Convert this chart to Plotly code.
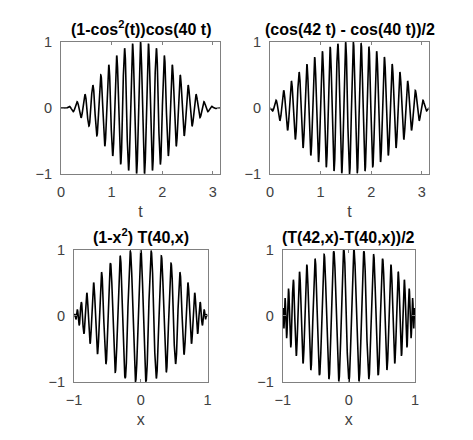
import numpy as np
import plotly.graph_objects as go

# panel titles and axis labels
titles = ["(1-cos<sup>2</sup>(t))cos(40 t)", "(cos(42 t) - cos(40 t))/2",
          "(1-x<sup>2</sup>) T(40,x)", "(T(42,x)-T(40,x))/2"]
xlabels = ["t", "t", "x", "x"]
x_ticks_top = [0, 1, 2, 3]
x_ticks_bottom = [-1, 0, 1]
y_ticks = [-1, 0, 1]

# the curves are the functions named in the titles
n_low, n_high = 40, 42
t = np.linspace(0, np.pi, 3000)
x = np.linspace(-1, 1, 3000)
cheb = lambda n, v: np.cos(n * np.arccos(np.clip(v, -1, 1)))
curves = [
    (t, (1 - np.cos(t) ** 2) * np.cos(n_low * t)),
    (t, (np.cos(n_high * t) - np.cos(n_low * t)) / 2),
    (x, (1 - x ** 2) * cheb(n_low, x)),
    (x, (cheb(n_high, x) - cheb(n_low, x)) / 2),
]

W, H = 473, 440
# plot boxes in pixels: left, right, top, bottom
boxes = [(61, 220, 42, 174), (270, 429, 42, 174),
         (74, 207.5, 249.5, 382), (282.7, 415, 249.5, 382)]

fig = go.Figure()
font = "Liberation Sans, Arial, sans-serif"

for i, ((xs, ys), (l, r, tp, b)) in enumerate(zip(curves, boxes)):
    k = "" if i == 0 else str(i + 1)
    fig.add_trace(go.Scatter(x=xs, y=ys, mode="lines",
                             line=dict(color="black", width=1.6),
                             xaxis="x" + k, yaxis="y" + k, showlegend=False))
    top = i < 2
    common = dict(showline=True, mirror="allticks", linecolor="#808080", linewidth=1,
                  ticks="inside", ticklen=3, tickcolor="#808080", showgrid=False,
                  zeroline=False, automargin=False,
                  tickfont=dict(family=font, size=14.5, color="#404040"))
    fig.layout["xaxis" + k] = dict(
        domain=[l / W, r / W], anchor="y" + k,
        range=[0, np.pi] if top else [-1, 1],
        tickvals=x_ticks_top if top else x_ticks_bottom, ticklabelstandoff=5,
        title=dict(text=xlabels[i], font=dict(family=font, size=16, color="#404040"), standoff=6),
        **common)
    fig.layout["yaxis" + k] = dict(
        domain=[1 - b / H, 1 - tp / H], anchor="x" + k,
        range=[-1, 1], tickvals=y_ticks, ticklabelstandoff=5, **common)
    fig.add_annotation(text="<b>" + titles[i] + "</b>", x=(l + r) / 2 / W, y=1 - tp / H,
                       xref="paper", yref="paper", xanchor="center", yanchor="bottom",
                       showarrow=False, yshift=2,
                       font=dict(family=font, size=16, color="black"))

fig.update_layout(width=W, height=H, margin=dict(l=0, r=0, t=0, b=0),
                  plot_bgcolor="white", paper_bgcolor="white", hovermode=False)
fig.write_html("out.html", config={"displayModeBar": False},
               post_script="document.body.style.margin='0';")
